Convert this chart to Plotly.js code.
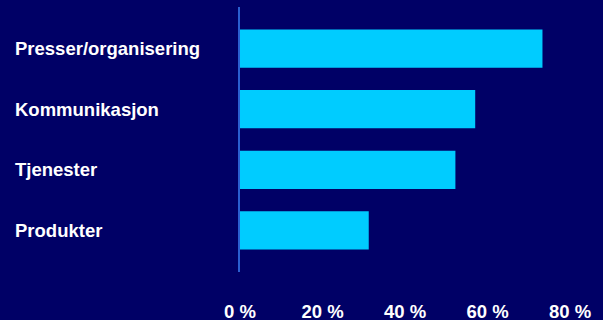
<!DOCTYPE html>
<html><head><meta charset="utf-8">
<script src="https://cdn.plot.ly/plotly-3.0.1.min.js"></script>
<style>html,body{margin:0;padding:0;background:#000066;}#chart{width:603px;height:320px;}</style>
</head><body><div id="chart"></div>
<script>
const categories = ["Presser/organisering", "Kommunikasjon", "Tjenester", "Produkter"];
const values = [73.3, 57.0, 52.2, 31.2];
const tickValues = [0, 20, 40, 60, 80];
const tickLabels = ["0 %", "20 %", "40 %", "60 %", "80 %"];

const W = 603, H = 320;
const margin = {l: 240, r: 4, t: 7, b: 48};
const plotW = W - margin.l - margin.r;
const font = {family: "Liberation Sans, Arial, sans-serif", color: "#ffffff", size: 18};

const annotations = categories.map(c => ({
  xref: "paper", yref: "y", x: -(margin.l - 13) / plotW, y: c,
  xanchor: "left", yanchor: "middle", showarrow: false,
  text: "<b>" + c + "</b>", font: {family: font.family, color: "#ffffff", size: 18.5}
}));

Plotly.newPlot("chart", [{
  type: "bar", orientation: "h", x: values, y: categories,
  marker: {color: "#00ccff", line: {width: 0}}, width: 0.63, hoverinfo: "none"
}], {
  width: W, height: H, margin: margin,
  paper_bgcolor: "#000066", plot_bgcolor: "#000066",
  font: font, showlegend: false,
  xaxis: {range: [0, 87], tickvals: tickValues, ticktext: tickLabels.map(t => "<b>" + t + "</b>"),
    showgrid: false, zeroline: false, showline: false, ticks: "", ticklabelstandoff: 26,
    tickfont: {family: font.family, color: "#ffffff", size: 18.5}},
  yaxis: {type: "category", range: [3.685, -0.685], showticklabels: false, showgrid: false,
    zeroline: false, showline: true, linecolor: "#2a5fd0", linewidth: 2, ticks: ""},
  annotations: annotations
}, {staticPlot: true});
</script></body></html>
